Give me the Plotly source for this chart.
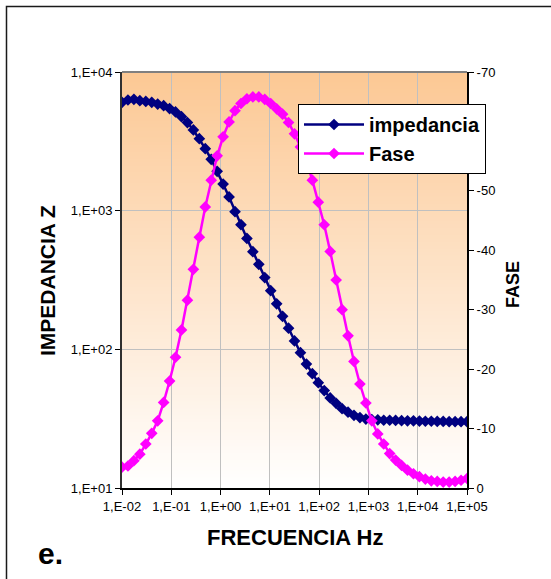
import plotly.graph_objects as go

# Frequency sweep (Hz), logarithmically spaced from 10 mHz to 100 kHz
freq_hz = [
    0.01, 0.013204, 0.017433, 0.023018, 0.030392, 0.040128, 0.052983, 0.069956, 0.092366,
    0.12196, 0.16103, 0.21262, 0.28073, 0.37067, 0.48941, 0.64619, 0.85321,
    1.1265, 1.4874, 1.9639, 2.5930, 3.4237, 4.5206, 5.9687, 7.8808,
    10.405, 13.739, 18.140, 23.951, 31.623, 41.753, 55.129, 72.790, 96.108,
    126.90, 167.55, 221.23, 292.10, 385.68, 509.23, 672.36, 887.76,
    1172.2, 1547.7, 2043.5, 2698.1, 3562.5, 4703.7, 6210.6, 8200.1,
    10827, 14296, 18875, 24922, 32906, 43447, 57366, 75743, 100000,
]

# |Z| in ohm
impedancia = [
    6039, 6281, 6353, 6209, 6138, 6039, 5875, 5715, 5445,
    5152, 4764, 4315, 3819, 3304, 2799, 2344, 1923,
    1556, 1256, 984, 793, 631, 506, 410, 329,
    265, 213, 173, 142, 115, 94.6, 78.3, 66.8, 57.5,
    50.4, 44.6, 40.8, 37.3, 35.2, 33.4, 32.2, 31.4,
    31.1, 31.0, 30.8, 30.8, 30.7, 30.6, 30.5, 30.5,
    30.4, 30.3, 30.3, 30.2, 30.2, 30.1, 30.1, 30.1, 30.1,
]

# Phase angle in degrees
fase = [
    -3.5, -3.7, -4.6, -5.7, -7.4, -9.2, -11.3, -14.4, -18.0,
    -22.0, -26.6, -31.6, -36.8, -42.2, -47.3, -51.8, -55.9,
    -59.1, -61.6, -63.5, -64.7, -65.5, -65.8, -65.8, -65.4,
    -64.7, -63.8, -62.9, -61.5, -59.6, -57.4, -54.9, -51.8, -48.1,
    -44.3, -39.8, -35.0, -30.0, -25.6, -21.3, -17.5, -14.3,
    -11.3, -9.1, -7.4, -5.8, -4.7, -3.8, -3.0, -2.4,
    -1.9, -1.5, -1.2, -1.1, -1.0, -1.0, -1.1, -1.3, -1.6,
]

x_tickvals = [1e-2, 1e-1, 1e0, 1e1, 1e2, 1e3, 1e4, 1e5]
x_ticktext = ["1,E-02", "1,E-01", "1,E+00", "1,E+01", "1,E+02", "1,E+03", "1,E+04", "1,E+05"]
z_tickvals = [1e1, 1e2, 1e3, 1e4]
z_ticktext = ["1,E+01", "1,E+02", "1,E+03", "1,E+04"]
# the -60 label sits underneath the legend box, so it is left blank
fase_tickvals = [0, -10, -20, -30, -40, -50, -60, -70]
fase_ticktext = ["0", "-10", "-20", "-30", "-40", "-50", "", "-70"]

FONT = "Liberation Sans, Arial, sans-serif"
W, H = 551, 579
L, R, T, B = 122, 84, 72, 91
PW, PH = W - L - R, H - T - B


def px(xp):
    return (xp - L) / PW


def py(yp):
    return (H - B - yp) / PH


fig = go.Figure()
fig.add_trace(go.Scatter(
    x=freq_hz, y=impedancia, name="impedancia", mode="lines+markers",
    line=dict(color="#000080", width=2.5),
    marker=dict(symbol="diamond", size=9, color="#000080"),
    xaxis="x", yaxis="y",
))
fig.add_trace(go.Scatter(
    x=freq_hz, y=fase, name="Fase", mode="lines+markers",
    line=dict(color="#FF00FF", width=2.5),
    marker=dict(symbol="diamond", size=9, color="#FF00FF"),
    xaxis="x", yaxis="y2",
))

# Vertical peach-to-white gradient behind the plotting area
shapes = []
n_bands = 120
top_rgb = (252, 200, 148)
for i in range(n_bands):
    t = (i + 0.5) / n_bands
    c = tuple(round(255 + (tc - 255) * t) for tc in top_rgb)
    shapes.append(dict(
        type="rect", xref="paper", yref="paper", layer="below",
        x0=0, x1=1, y0=i / n_bands, y1=(i + 1) / n_bands + 0.002,
        fillcolor="rgb(%d,%d,%d)" % c, line=dict(width=0),
    ))
# grey border along the top of the plotting area
shapes.append(dict(type="line", xref="paper", yref="paper", x0=0, x1=1, y0=1, y1=1,
                   line=dict(color="#808080", width=2)))
# outer chart frame
shapes.append(dict(
    type="path", xref="paper", yref="paper",
    path="M %f,%f L %f,%f L %f,%f" % (px(620), py(6.5), px(6.5), py(6.5), px(6.5), py(640)),
    line=dict(color="#1a1a1a", width=1.5),
))

axis_font = dict(family=FONT, size=13, color="black")


def title_font(size):
    return dict(family=FONT, size=size, color="black", weight="bold")


fig.update_layout(
    width=W, height=H, autosize=False,
    margin=dict(l=L, r=R, t=T, b=B, pad=0),
    paper_bgcolor="white", plot_bgcolor="rgba(0,0,0,0)",
    font=dict(family=FONT, color="black"),
    showlegend=True,
    legend=dict(
        x=px(298), y=py(104), xanchor="left", yanchor="top",
        bgcolor="white", bordercolor="black", borderwidth=1,
        font=dict(family=FONT, size=20, color="black", weight="bold"),
        tracegroupgap=0, itemwidth=60,
        entrywidth=151, entrywidthmode="pixels",
    ),
    xaxis=dict(
        type="log", range=[-2, 5], tickvals=x_tickvals, ticktext=x_ticktext,
        tickfont=axis_font, showgrid=True, gridcolor="#c0c0c0", gridwidth=1,
        showline=True, linecolor="black", linewidth=2, zeroline=False,
        ticks="outside", ticklen=5, tickcolor="black", tickwidth=1,
    ),
    yaxis=dict(
        type="log", range=[1, 4], tickvals=z_tickvals, ticktext=z_ticktext,
        tickfont=axis_font, showgrid=True, gridcolor="#c0c0c0", gridwidth=1,
        showline=True, linecolor="#303030", linewidth=2, zeroline=False,
        ticks="outside", ticklen=5, tickcolor="black", tickwidth=1,
    ),
    yaxis2=dict(
        overlaying="y", side="right", range=[0, -70],
        tickvals=fase_tickvals, ticktext=fase_ticktext, tickfont=axis_font,
        showgrid=False, showline=True, linecolor="black", linewidth=2, zeroline=False,
        ticks="outside", ticklen=5, tickcolor="black", tickwidth=1,
    ),
    shapes=shapes,
    annotations=[
        dict(text="IMPEDANCIA Z", x=px(47), y=py(281), xref="paper", yref="paper",
             textangle=-90, showarrow=False, font=title_font(21),
             xanchor="center", yanchor="middle"),
        dict(text="FASE", x=px(513), y=py(285), xref="paper", yref="paper",
             textangle=-90, showarrow=False, font=title_font(18),
             xanchor="center", yanchor="middle"),
        dict(text="FRECUENCIA Hz", x=px(295), y=py(537), xref="paper", yref="paper",
             showarrow=False, font=title_font(22), xanchor="center", yanchor="middle"),
        dict(text="e.", x=px(50), y=py(553), xref="paper", yref="paper",
             showarrow=False, font=title_font(30),
             xanchor="center", yanchor="middle"),
    ],
)

fig.write_html("out.html")
